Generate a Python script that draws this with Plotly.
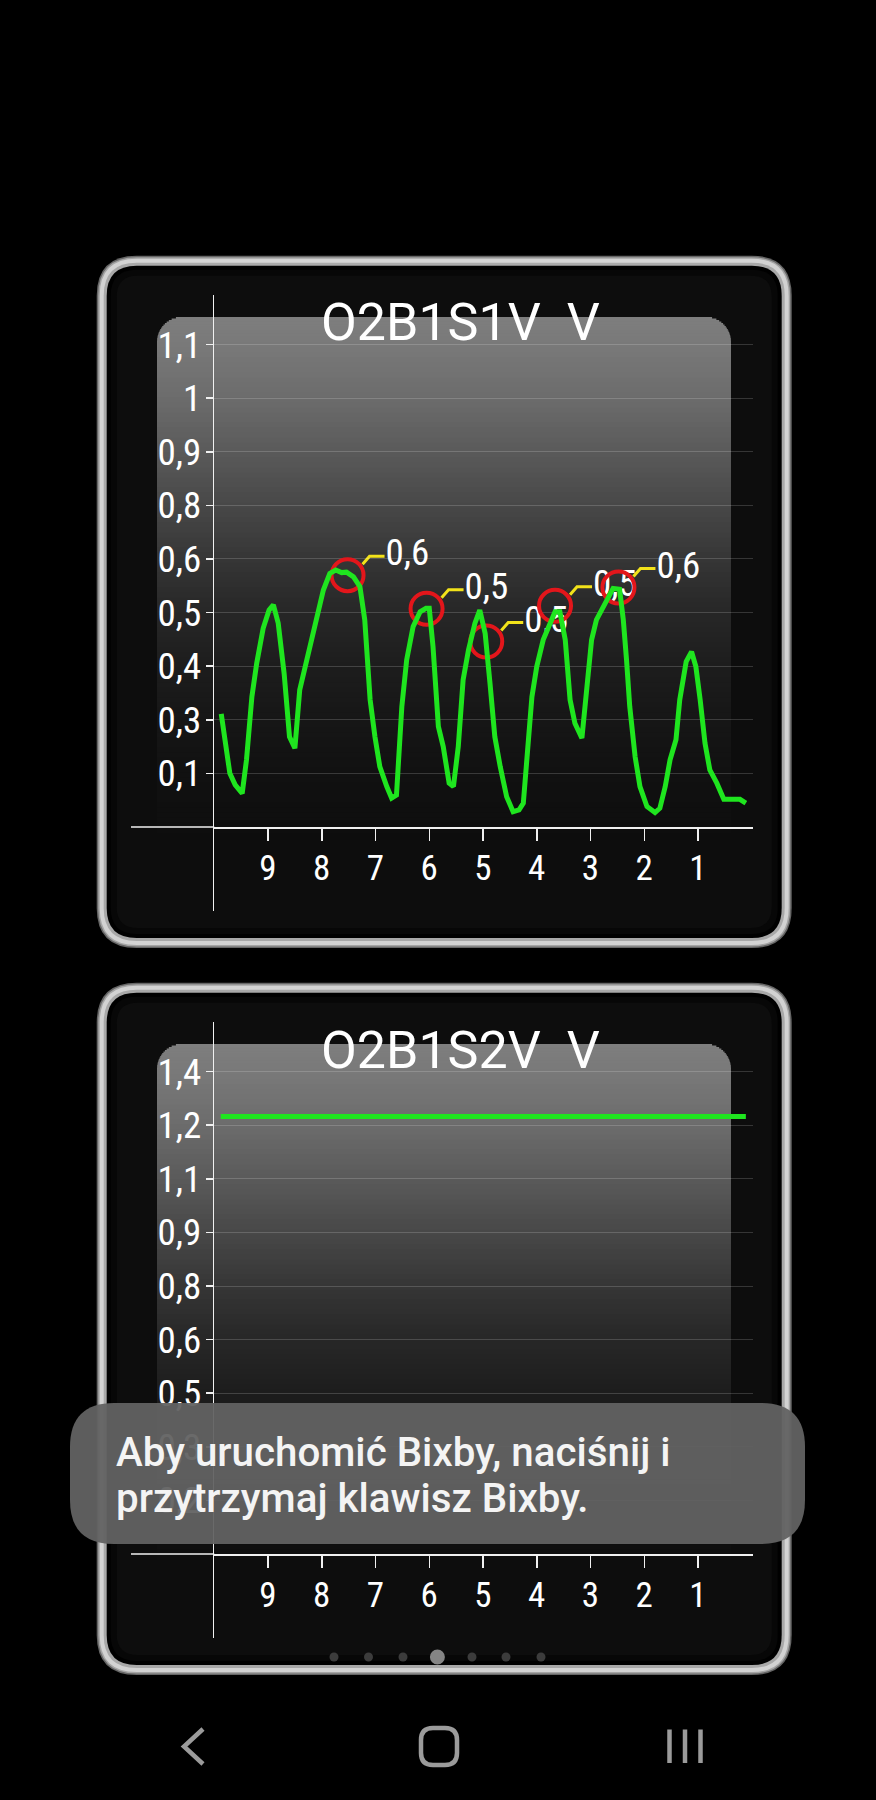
import plotly.graph_objects as go

W, H = 876, 1800

# ---------------- data ----------------
time_s = [9.87, 9.71, 9.61, 9.48, 9.40, 9.30, 9.21, 9.09, 8.98, 8.90, 8.81, 8.70, 8.60, 8.50,
          8.41, 8.31, 8.22, 8.09, 7.97, 7.85, 7.74, 7.63, 7.54, 7.41, 7.29, 7.20, 7.10, 7.01,
          6.92, 6.79, 6.70, 6.61, 6.51, 6.42, 6.30, 6.17, 6.06, 6.00, 5.93, 5.83, 5.74, 5.63,
          5.55, 5.46, 5.37, 5.27, 5.15, 5.06, 4.96, 4.87, 4.78, 4.68, 4.56, 4.44, 4.33, 4.25,
          4.19, 4.09, 4.00, 3.88, 3.75, 3.66, 3.57, 3.47, 3.38, 3.29, 3.16, 3.07, 2.98, 2.89,
          2.76, 2.67, 2.58, 2.46, 2.39, 2.33, 2.27, 2.17, 2.08, 1.95, 1.80, 1.71, 1.61, 1.52,
          1.41, 1.34, 1.22, 1.12, 1.04, 0.96, 0.87, 0.78, 0.65, 0.52, 0.34, 0.22, 0.11]
o2b1s1_v = [0.266, 0.126, 0.099, 0.079, 0.158, 0.306, 0.385, 0.467, 0.510, 0.522, 0.479, 0.361,
            0.212, 0.185, 0.322, 0.377, 0.432, 0.491, 0.557, 0.596, 0.604, 0.598, 0.599, 0.588,
            0.565, 0.487, 0.299, 0.212, 0.142, 0.095, 0.068, 0.075, 0.283, 0.393, 0.471, 0.506,
            0.514, 0.514, 0.424, 0.236, 0.189, 0.103, 0.095, 0.189, 0.346, 0.416, 0.479, 0.510,
            0.455, 0.338, 0.212, 0.142, 0.071, 0.036, 0.040, 0.056, 0.165, 0.306, 0.377, 0.440,
            0.479, 0.506, 0.506, 0.440, 0.299, 0.244, 0.209, 0.330, 0.440, 0.487, 0.518, 0.545,
            0.561, 0.559, 0.487, 0.393, 0.283, 0.165, 0.095, 0.048, 0.034, 0.044, 0.095, 0.158,
            0.205, 0.299, 0.389, 0.412, 0.377, 0.299, 0.197, 0.134, 0.103, 0.065, 0.065, 0.065,
            0.056]
peak_time = [7.52, 6.05, 4.94, 3.66, 2.48]
peak_v = [0.592, 0.513, 0.436, 0.520, 0.563]
peak_label = ["0,6", "0,5", "0,5", "0,5", "0,6"]

o2b1s2_time = [9.88, 0.11]
o2b1s2_v = [1.265, 1.265]

x_tickvals = [9, 8, 7, 6, 5, 4, 3, 2, 1]
x_ticktext = ["9", "8", "7", "6", "5", "4", "3", "2", "1"]
y1_tickvals = [0.126, 0.252, 0.378, 0.504, 0.630, 0.756, 0.882, 1.008, 1.134]
y1_ticktext = ["0,1", "0,3", "0,4", "0,5", "0,6", "0,8", "0,9", "1", "1,1"]
y2_tickvals = [0.155, 0.310, 0.465, 0.620, 0.775, 0.930, 1.085, 1.240, 1.395]
y2_ticktext = ["0,2", "0,3", "0,5", "0,6", "0,8", "0,9", "1,1", "1,2", "1,4"]
titles = ["O2B1S1V\u00a0\u00a0V", "O2B1S2V\u00a0\u00a0V"]
toast_lines = ["Aby uruchomić Bixby, naciśnij i", "przytrzymaj klawisz Bixby."]

# ---------------- geometry / style ----------------
COND = "Liberation Sans Narrow, Roboto Condensed, DejaVu Sans Condensed, Arial Narrow, sans-serif"
GREEN = "#1fe51f"
DY = 727                      # vertical offset of second panel (px)
X_L, X_R = 214.25, 753.0      # plot area in px
Y_T, Y_B = 294.6, 910.7
X_RANGE = [10.0, -0.023]
Y1_RANGE = [-0.1968, 1.2515]
Y2_RANGE = [-0.242, 1.5396]
AXIS_Y1 = 827.0

def PX(px):
    return px / W

def PY(py):
    return 1 - py / H

x_ppu = (X_R - X_L) / (X_RANGE[0] - X_RANGE[1])
y1_ppu = (Y_B - Y_T) / (Y1_RANGE[1] - Y1_RANGE[0])

shapes = []

def rrect_path(x0, y0, x1, y1, r):
    pts = [
        ("M", [(x0 + r, y0)]), ("L", [(x1 - r, y0)]), ("Q", [(x1, y0), (x1, y0 + r)]),
        ("L", [(x1, y1 - r)]), ("Q", [(x1, y1), (x1 - r, y1)]), ("L", [(x0 + r, y1)]),
        ("Q", [(x0, y1), (x0, y1 - r)]), ("L", [(x0, y0 + r)]), ("Q", [(x0, y0), (x0 + r, y0)]),
    ]
    s = ""
    for cmd, ps in pts:
        s += cmd + " " + " ".join(f"{PX(a):.5f},{PY(b):.5f}" for a, b in ps) + " "
    return s + "Z"

def add_rrect(x0, y0, x1, y1, r, fill=None, line=None, lw=0, layer="below"):
    shapes.append(dict(type="path", xref="paper", yref="paper", path=rrect_path(x0, y0, x1, y1, r),
                       fillcolor=fill if fill else "rgba(0,0,0,0)",
                       line=dict(color=line if line else "rgba(0,0,0,0)", width=lw), layer=layer))

def add_rect(x0, y0, x1, y1, fill, layer="below"):
    shapes.append(dict(type="rect", xref="paper", yref="paper", x0=PX(x0), x1=PX(x1),
                       y0=PY(y1), y1=PY(y0), fillcolor=fill, line=dict(width=0), layer=layer))

glass_stops = [(0, 126), (28, 121), (81, 108), (135, 90), (188, 72), (242, 54), (295, 39),
               (349, 29), (403, 22), (457, 17), (513, 14)]

def glass_gray(d):
    for (a, ca), (b, cb) in zip(glass_stops[:-1], glass_stops[1:]):
        if a <= d <= b:
            return ca + (cb - ca) * (d - a) / (b - a)
    return glass_stops[-1][1]

def draw_panel(dy):
    fx0, fy0, fx1, fy1 = 96.7, 255.7 + dy, 791.7, 948.0 + dy
    layers = [(0, 40, "#666666"), (1.5, 38.5, "#a4a4a4"), (3, 37, "#d2d2d2"),
              (7, 33, "#a8a8a8"), (10, 30, "#000000"), (14, 26, "#070707"), (20, 21, "#0d0d0d")]
    for ins, r, c in layers:
        add_rrect(fx0 + ins, fy0 + ins, fx1 - ins, fy1 - ins, r, fill=c)
    # glass reflection
    gx0, gx1, gy0 = 157.0, 731.0, 317.0 + dy
    r = 25.0
    d = 0.0
    while d < 513:
        h = 1.5 if d < r else 5.0
        mid = d + h / 2
        if mid < r:
            dd = r - mid
            inset = r - (r * r - dd * dd) ** 0.5
        else:
            inset = 0.0
        g = int(round(glass_gray(mid)))
        add_rect(gx0 + inset, gy0 + d, gx1 - inset, gy0 + d + h + 0.6, f"rgb({g},{g},{g})")
        d += h
    # left extension of the x axis line
    shapes.append(dict(type="line", xref="paper", yref="paper", x0=PX(131), x1=PX(X_L),
                       y0=PY(AXIS_Y1 + dy), y1=PY(AXIS_Y1 + dy),
                       line=dict(color="#f0f0f0", width=1.5), layer="below"))

draw_panel(0)
draw_panel(DY)

# leader lines for the annotated points (pixel offsets relative to each point)
for t, v in zip(peak_time, peak_v):
    shapes.append(dict(type="path", xref="x", yref="y", xsizemode="pixel", ysizemode="pixel",
                       xanchor=t, yanchor=v, path="M 15 11 L 22 19 L 37 19",
                       line=dict(color="#f2e21a", width=3), layer="below"))

# toast
add_rrect(70, 1403, 805, 1544, 44, fill="rgba(98,98,98,0.95)", layer="above")

# pagination dots
dots_x = [334, 368.5, 403, 437.4, 472, 506, 541]
for i, dx in enumerate(dots_x):
    rr = 7.5 if i == 3 else 4.5
    col = "#858585" if i == 3 else "#3c3c3c"
    shapes.append(dict(type="circle", xref="paper", yref="paper", x0=PX(dx - rr), x1=PX(dx + rr),
                       y0=PY(1657 + rr), y1=PY(1657 - rr), fillcolor=col, line=dict(width=0),
                       layer="above"))

# navigation bar
NAV = "#9b9b9b"
shapes.append(dict(type="path", xref="paper", yref="paper",
                   path=f"M {PX(203)},{PY(1729)} L {PX(184)},{PY(1746.5)} L {PX(203)},{PY(1764)}",
                   line=dict(color=NAV, width=4.5), layer="above"))
add_rrect(421, 1728, 457, 1765, 12, line=NAV, lw=4.5, layer="above")
for lx in [669.5, 685, 700.5]:
    shapes.append(dict(type="line", xref="paper", yref="paper", x0=PX(lx), x1=PX(lx),
                       y0=PY(1763), y1=PY(1729.5), line=dict(color=NAV, width=4.5), layer="above"))

# ---------------- traces ----------------
fig = go.Figure()

label_x = [t - 38 / x_ppu for t in peak_time]
label_y = [v + 19 / y1_ppu for v in peak_v]
fig.add_trace(go.Scatter(x=label_x, y=label_y, mode="text", text=peak_label,
                         textposition="middle right",
                         textfont=dict(family=COND, size=37, color="#ffffff"),
                         hoverinfo="skip", showlegend=False, xaxis="x", yaxis="y"))
fig.add_trace(go.Scatter(x=peak_time, y=peak_v, mode="markers",
                         marker=dict(symbol="circle-open", size=32, color="#e3161b",
                                     line=dict(width=4, color="#e3161b")),
                         hoverinfo="skip", showlegend=False, xaxis="x", yaxis="y"))
fig.add_trace(go.Scatter(x=time_s, y=o2b1s1_v, mode="lines",
                         line=dict(color=GREEN, width=5), showlegend=False,
                         xaxis="x", yaxis="y"))
fig.add_trace(go.Scatter(x=o2b1s2_time, y=o2b1s2_v, mode="lines",
                         line=dict(color=GREEN, width=5), showlegend=False,
                         xaxis="x2", yaxis="y2"))

def xaxis_cfg(dy):
    return dict(domain=[PX(X_L), PX(X_R)], range=X_RANGE, anchor="free",
                position=PY(AXIS_Y1 + dy), showline=True, linecolor="#f0f0f0", linewidth=1.5,
                ticks="outside", ticklen=12, tickwidth=1.5, tickcolor="#f0f0f0",
                tickmode="array", tickvals=x_tickvals, ticktext=x_ticktext,
                tickfont=dict(family=COND, size=35, color="#ffffff"), ticklabelstandoff=-3,
                showgrid=False, zeroline=False, fixedrange=True)

def yaxis_cfg(dy, rng, tv, tt, anchor):
    return dict(domain=[PY(Y_B + dy), PY(Y_T + dy)], range=rng, anchor=anchor,
                showline=True, linecolor="#f0f0f0", linewidth=1.5,
                ticks="outside", ticklen=7, tickwidth=1.5, tickcolor="#f0f0f0",
                tickmode="array", tickvals=tv, ticktext=tt,
                tickfont=dict(family=COND, size=37, color="#ffffff"), ticklabelstandoff=-3,
                showgrid=True, gridcolor="rgba(255,255,255,0.17)", gridwidth=1,
                zeroline=False, fixedrange=True)

annotations = []
for i, dy in enumerate([0, DY]):
    annotations.append(dict(xref="paper", yref="paper", x=PX(460), y=PY(323 + dy),
                            text=titles[i], showarrow=False, xanchor="center", yanchor="middle",
                            font=dict(family="Roboto, sans-serif", size=52, color="#ffffff")))
for j, ly in enumerate([1452.5, 1498.5]):
    annotations.append(dict(xref="paper", yref="paper", x=PX(114), y=PY(ly),
                            text=toast_lines[j], showarrow=False, xanchor="left", yanchor="middle",
                            font=dict(family="Roboto, sans-serif", size=40.3, color="#f4f4f4",
                                      weight=500)))

fig.update_layout(
    width=W, height=H, autosize=False,
    margin=dict(l=0, r=0, t=0, b=0, pad=0),
    paper_bgcolor="#000000", plot_bgcolor="rgba(0,0,0,0)",
    xaxis=xaxis_cfg(0),
    yaxis=yaxis_cfg(0, Y1_RANGE, y1_tickvals, y1_ticktext, "x"),
    xaxis2=xaxis_cfg(DY),
    yaxis2=yaxis_cfg(DY, Y2_RANGE, y2_tickvals, y2_ticktext, "x2"),
    shapes=shapes, annotations=annotations, showlegend=False,
)

fig.write_html("out.html", config={"displayModeBar": False, "staticPlot": True},
               post_script="document.body.style.margin='0';document.body.style.background='#000';"
                           "document.documentElement.style.background='#000';")
